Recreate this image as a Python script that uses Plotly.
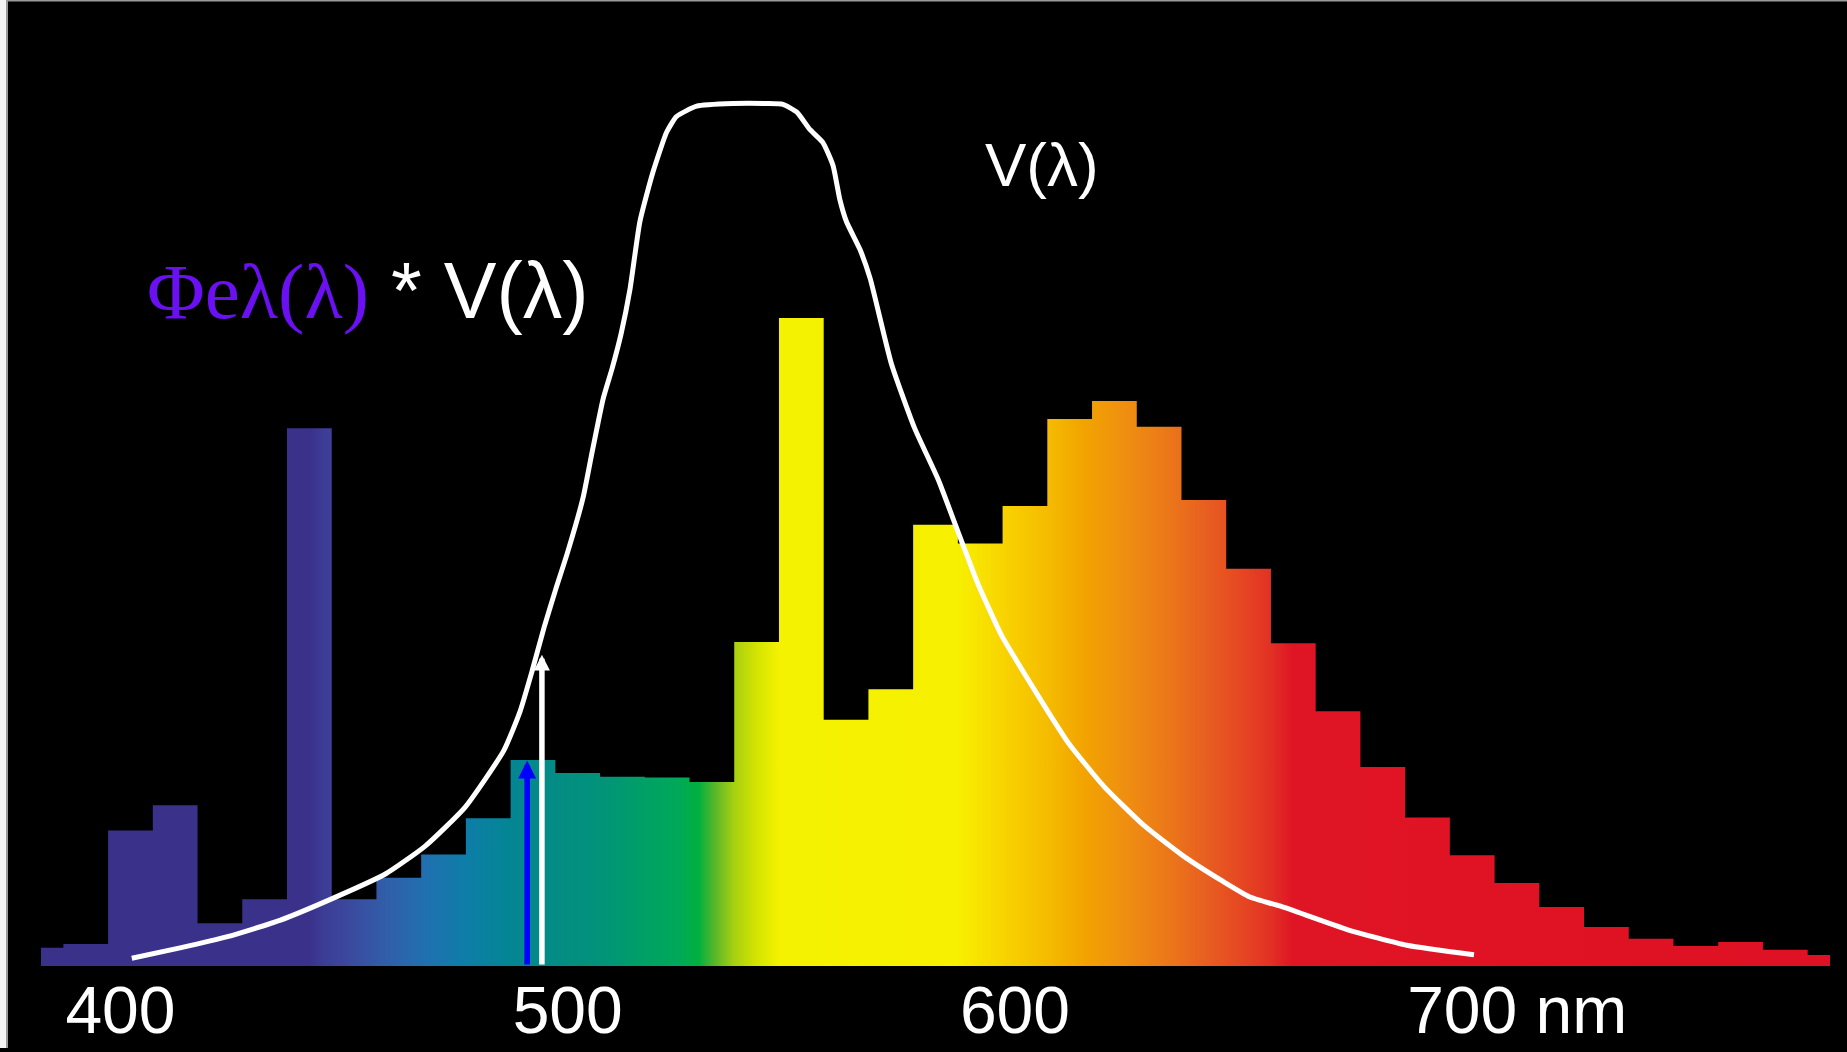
import plotly.graph_objects as go

# ---- data -------------------------------------------------------------
wavelength_nm = list(range(380, 781, 10))
spectral_power = [2.8, 3.4, 20.9, 24.8, 6.6, 10.3, 83.0, 10.3, 13.6, 17.2,
                  22.8, 31.8, 29.8, 29.2, 29.1, 28.4, 50.0, 100.0, 38.0, 42.7,
                  68.1, 65.2, 71.0, 84.4, 87.2, 83.2, 71.9, 61.3, 49.8, 39.3,
                  30.7, 22.9, 17.1, 12.8, 9.1, 6.0, 4.2, 3.1, 3.7, 2.5, 1.7]

v_nm = [400.3, 411.1, 421.7, 433.4, 444.6, 457.1, 465.9, 474.8, 483.5, 487.1,
        489.8, 492.5, 495.1, 497.7, 501.2, 503.0, 505.7, 507.7, 509.7, 511.7,
        513.9, 516.8, 519.9, 522.1, 526.6, 534.7, 542.3, 545.9, 549.0, 551.9,
        554.8, 557.1, 558.6, 560.1, 563.1, 565.4, 570.1, 575.3, 580.6, 585.0,
        589.5, 594.8, 600.0, 605.4, 609.8, 617.7, 626.6, 635.3, 644.3, 650.3,
        657.3, 672.2, 685.4, 700.4]
v_rel = [0.009, 0.021, 0.034, 0.053, 0.077, 0.107, 0.139, 0.184, 0.250, 0.295,
         0.342, 0.393, 0.437, 0.479, 0.543, 0.590, 0.658, 0.693, 0.733, 0.785,
         0.863, 0.920, 0.967, 0.985, 0.997, 1.000, 1.000, 0.999, 0.990, 0.970,
         0.955, 0.928, 0.889, 0.863, 0.831, 0.797, 0.699, 0.624, 0.564, 0.504,
         0.443, 0.383, 0.338, 0.293, 0.258, 0.208, 0.163, 0.128, 0.098, 0.080,
         0.069, 0.042, 0.024, 0.013]

spectrum_color_nm = [380, 440, 443, 450, 458, 466, 475, 484, 492, 505, 515, 522,
                     527, 531, 535, 540, 545, 585, 595, 605, 613, 622, 631, 640,
                     648, 655, 660, 780]
spectrum_colors = ["#3a318b", "#3a318b", "#3c3c95", "#3a4c9f", "#3060aa", "#2070b0",
                   "#0e7da8", "#048595", "#048a88", "#02937a", "#00a066", "#00a85a",
                   "#00b040", "#60b828", "#a8d010", "#d4e400", "#f4f200", "#f7f000",
                   "#f8d400", "#f5bc00", "#f2a400", "#ef9010", "#ec7a18", "#e86020",
                   "#e64822", "#e23024", "#df1424", "#df1124"]

tick_values = [400, 500, 600, 700]
tick_labels = ["400", "500", "600", "\u00a0" * 6 + "700 nm"]

blue_arrow_nm, blue_arrow_value = 488.7, 31.7
white_arrow_nm, white_arrow_value = 492.0, 0.361

# ---- figure -----------------------------------------------------------
lo, hi = spectrum_color_nm[0], spectrum_color_nm[-1]
colorscale = [[(w - lo) / (hi - lo), c] for w, c in zip(spectrum_color_nm, spectrum_colors)]

fig = go.Figure()
fig.add_trace(go.Scatter(
    x=wavelength_nm, y=spectral_power, mode="lines", line=dict(shape="hvh", width=0),
    fill="tozeroy",
    fillgradient=dict(type="horizontal", colorscale=colorscale, start=lo, stop=hi),
    hoverinfo="skip",
))
fig.add_trace(go.Scatter(
    x=v_nm, y=v_rel, mode="lines", yaxis="y2",
    line=dict(color="white", width=5, shape="spline", smoothing=0.5),
    hoverinfo="skip",
))

L, R, T, B = 41, 17, 5, 82
W, H = 1847, 1052
pw, ph = W - L - R, H - T - B

def px_x(px):
    return (px - L) / pw

def px_y(py):
    return (H - B - py) / ph

annotations = [
    dict(x=blue_arrow_nm, y=blue_arrow_value, ax=blue_arrow_nm, ay=0,
         xref="x", yref="y", axref="x", ayref="y", text="", showarrow=True,
         arrowhead=2, arrowsize=0.63, arrowwidth=5.7, arrowcolor="#0000ff", standoff=0),
    dict(x=white_arrow_nm, y=white_arrow_value, ax=white_arrow_nm, ay=0,
         xref="x", yref="y2", axref="x", ayref="y2", text="", showarrow=True,
         arrowhead=2, arrowsize=0.58, arrowwidth=5.5, arrowcolor="white", standoff=0),
    dict(x=px_x(1042), y=px_y(165), xref="paper", yref="paper", showarrow=False,
         text="V(λ)", xanchor="center", yanchor="middle",
         font=dict(family="Liberation Sans", size=62, color="white")),
    dict(x=px_x(145), y=px_y(292), xref="paper", yref="paper", showarrow=False,
         text='<span style="font-family:\'Liberation Serif\';color:#6a10f2">Φeλ(λ)</span> * V(λ)',
         xanchor="left", yanchor="middle",
         font=dict(family="Liberation Sans", size=79, color="white")),
]

shapes = [
    dict(type="rect", xref="paper", yref="paper", xsizemode="pixel", ysizemode="pixel",
         xanchor=0, yanchor=0, x0=-L, x1=-L + 6, y0=-B, y1=ph + T,
         fillcolor="#f4f4f4", line=dict(width=0), layer="above"),
    dict(type="rect", xref="paper", yref="paper", xsizemode="pixel", ysizemode="pixel",
         xanchor=0, yanchor=0, x0=-L + 6, x1=-L + 8, y0=-B, y1=ph + T,
         fillcolor="#9a9a9a", line=dict(width=0), layer="above"),
    dict(type="rect", xref="paper", yref="paper", xsizemode="pixel", ysizemode="pixel",
         xanchor=0, yanchor=0, x0=-L, x1=pw + R, y0=ph + T - 4, y1=ph + T,
         fillcolor="#f4f4f4", line=dict(width=0), layer="above"),
    dict(type="rect", xref="paper", yref="paper", xsizemode="pixel", ysizemode="pixel",
         xanchor=0, yanchor=0, x0=-L + 6, x1=pw + R, y0=ph + T - 5.5, y1=ph + T - 4,
         fillcolor="#9a9a9a", line=dict(width=0), layer="above"),
]

fig.update_layout(
    width=W, height=H, autosize=False,
    margin=dict(l=L, r=R, t=T, b=B, pad=0),
    paper_bgcolor="black", plot_bgcolor="black",
    showlegend=False,
    xaxis=dict(range=[lo, hi], tickvals=tick_values, ticktext=tick_labels,
               showgrid=False, zeroline=False, showline=False, ticks="",
               ticklabelshift=-10,
               tickfont=dict(family="Liberation Sans", size=66, color="white")),
    yaxis=dict(range=[0, 148.3], visible=False, showgrid=False, zeroline=False),
    yaxis2=dict(range=[0, 1.1143], overlaying="y", visible=False,
                showgrid=False, zeroline=False),
    annotations=annotations,
    shapes=shapes,
)

fig.write_html("out.html", config={"displayModeBar": False},
               post_script="document.body.style.margin='0';document.body.style.overflow='hidden';")
